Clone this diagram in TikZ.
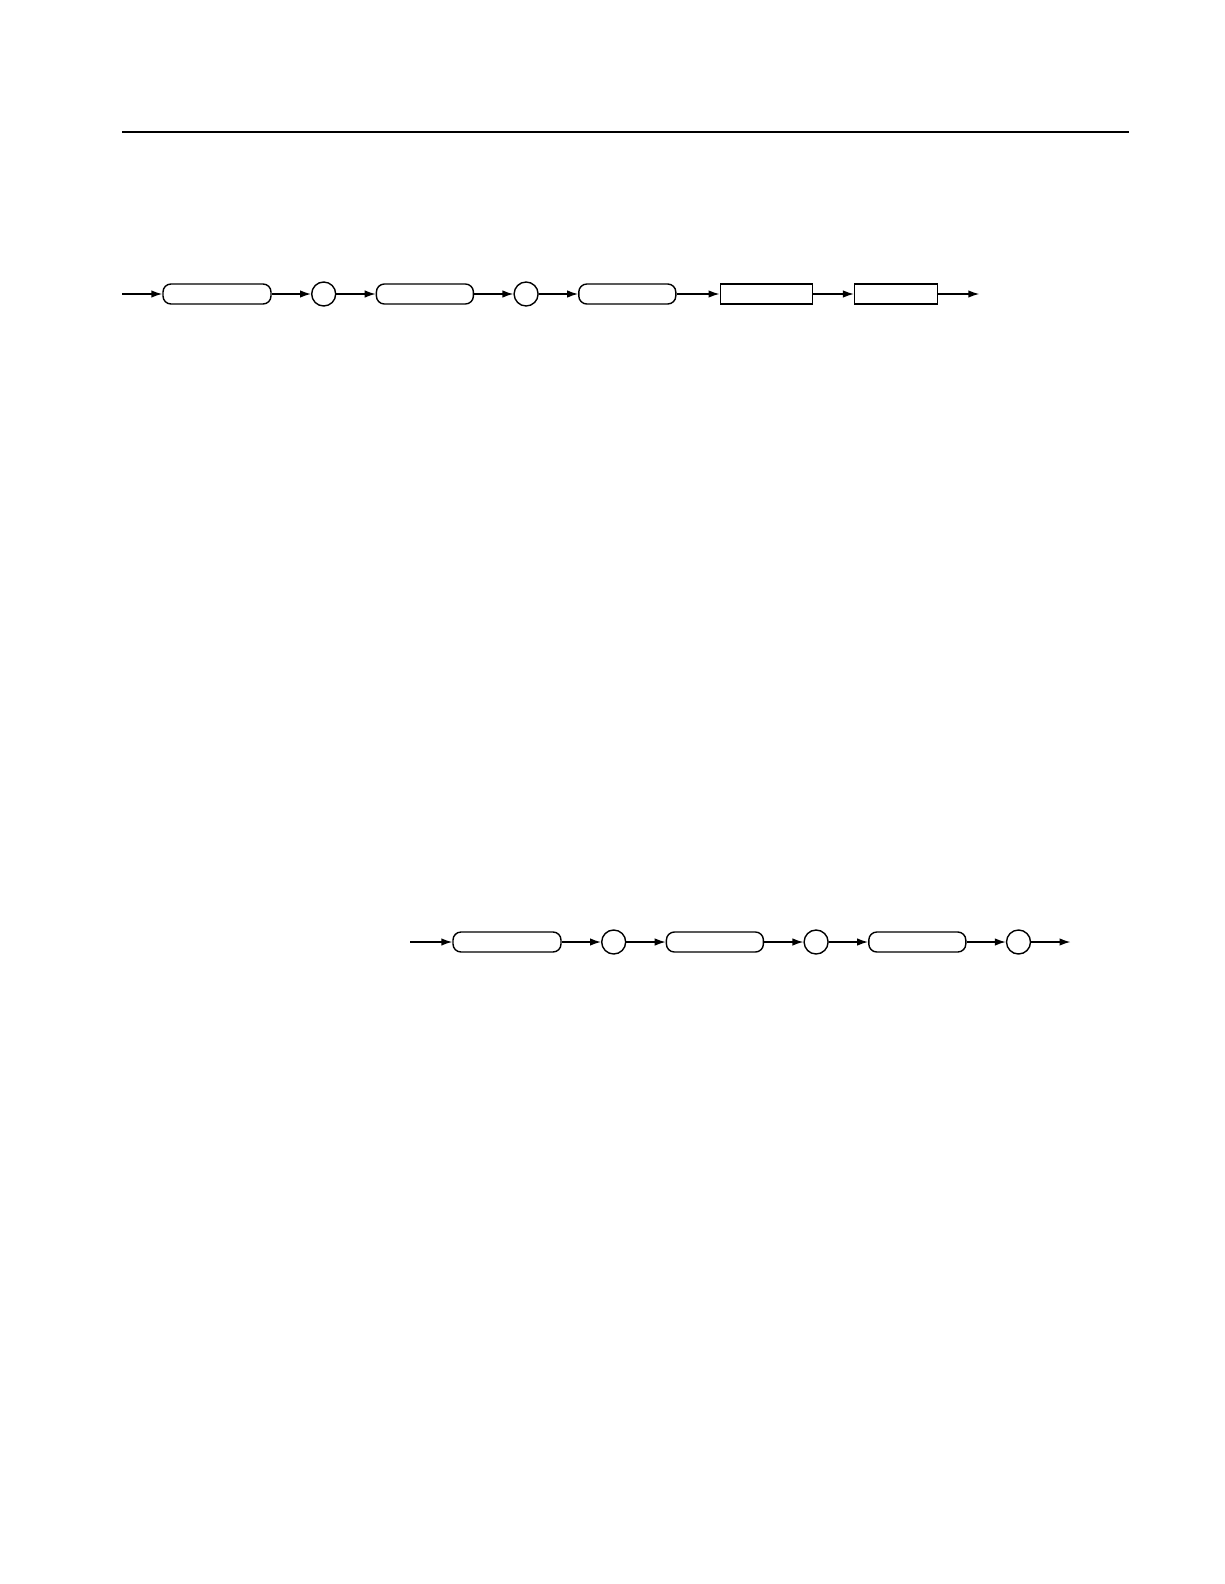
\documentclass[tikz,border=0pt]{standalone}
\usepackage{tikz}
\usetikzlibrary{arrows.meta,positioning}

\tikzset{
  keyword/.style={draw,line width=1.4pt,rounded corners=8pt,minimum width=97pt,minimum height=20pt,inner sep=0pt},
  sep/.style={draw,line width=1.4pt,circle,minimum size=24pt,inner sep=0pt},
  param/.style={draw,line width=1.4pt,rectangle,minimum height=20pt,inner sep=0pt},
  flow/.style={line width=1.4pt,-{Latex[length=11pt,width=7.5pt]}}
}

\begin{document}
\begin{tikzpicture}[x=1pt,y=-1pt,node distance=39.3pt]
  \useasboundingbox (0,0) rectangle (1224,1584);
  \draw[line width=1.2pt] (122,132) -- (1129,132);

  % first row
  \coordinate (in_a) at (122,294);
  \node[keyword,minimum width=108pt] (kw_a1) at (217,294) {};
    \node[sep] (sep_a1) [right =of kw_a1] {};
  \node[keyword] (kw_a2) [right =of sep_a1] {};
    \node[sep] (sep_a2) [right =of kw_a2] {};
  \node[keyword] (kw_a3) [right =of sep_a2] {};
  \node[param,minimum width=92pt] (par_a1) [right =43pt of kw_a3] {};
  \node[param,minimum width=83pt] (par_a2) [right =41pt of par_a1] {};
  \coordinate[right =41pt of par_a2] (out_a);

  \draw[flow] (in_a) -- (kw_a1);
  \draw[flow] (kw_a1) -- (sep_a1);
  \draw[flow] (sep_a1) -- (kw_a2);
  \draw[flow] (kw_a2) -- (sep_a2);
  \draw[flow] (sep_a2) -- (kw_a3);
  \draw[flow] (kw_a3) -- (par_a1);
  \draw[flow] (par_a1) -- (par_a2);
  \draw[flow] (par_a2) -- (out_a);

  % second row
  \coordinate (in_b) at (410,942);
  \node[keyword,minimum width=108pt] (kw_b1) at (507,942) {};
    \node[sep] (sep_b1) [right =of kw_b1] {};
  \node[keyword] (kw_b2) [right =of sep_b1] {};
    \node[sep] (sep_b2) [right =of kw_b2] {};
  \node[keyword] (kw_b3) [right =of sep_b2] {};
    \node[sep] (sep_b3) [right =of kw_b3] {};
  \coordinate[right =of sep_b3] (out_b);

  \draw[flow] (in_b) -- (kw_b1);
  \draw[flow] (kw_b1) -- (sep_b1);
  \draw[flow] (sep_b1) -- (kw_b2);
  \draw[flow] (kw_b2) -- (sep_b2);
  \draw[flow] (sep_b2) -- (kw_b3);
  \draw[flow] (kw_b3) -- (sep_b3);
  \draw[flow] (sep_b3) -- (out_b);
\end{tikzpicture}
\end{document}
